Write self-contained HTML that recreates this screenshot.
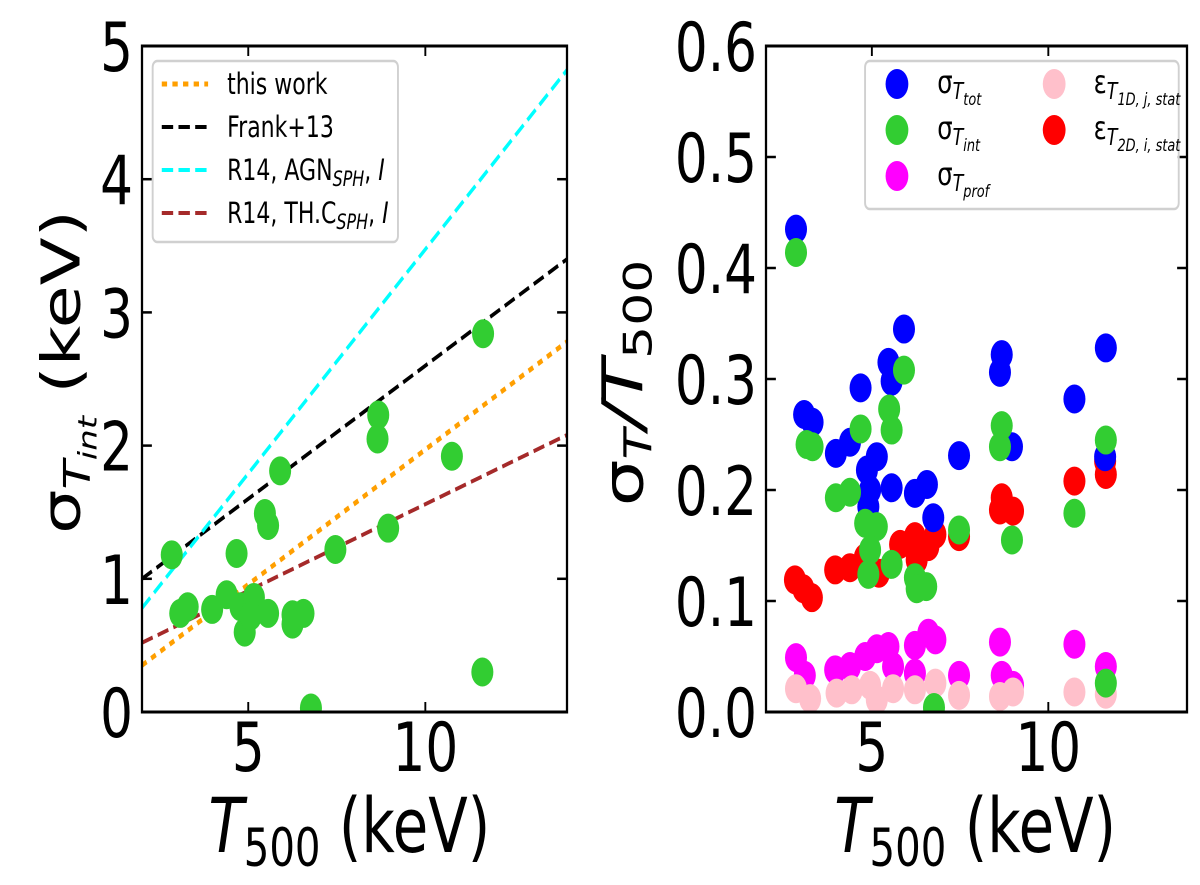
<!DOCTYPE html>
<html><head><meta charset="utf-8">
<style>
html,body{margin:0;padding:0;background:#fff;}
svg{display:block;}
text{font-family:"DejaVu Sans","Liberation Sans",sans-serif;fill:#000;}
</style></head>
<body>
<svg id="fig" width="1200" height="885" viewBox="0 0 1580 885" preserveAspectRatio="none" xmlns="http://www.w3.org/2000/svg">
<rect x="0" y="0" width="1580" height="885" fill="#fff"/>
<g id="left"></g>
<g id="right"></g>

<!-- axis labels -->
<text x="460" y="852" font-size="76" text-anchor="middle"><tspan font-style="italic">T</tspan><tspan font-size="53" dy="14">500</tspan><tspan dy="-14"> (keV)</tspan></text>
<text x="1284" y="852" font-size="76" text-anchor="middle"><tspan font-style="italic">T</tspan><tspan font-size="53" dy="14">500</tspan><tspan dy="-14"> (keV)</tspan></text>
<text transform="translate(105,372) rotate(-90)" font-size="70" text-anchor="middle">σ<tspan font-size="48" font-style="italic" dy="13">T</tspan><tspan font-size="34" font-style="italic" dy="9">int</tspan><tspan dy="-22"> (keV)</tspan></text>
<text transform="translate(846,383) rotate(-90)" font-size="74" text-anchor="middle">σ<tspan font-size="50" font-style="italic" dy="12">T</tspan><tspan dy="-12" font-style="italic">/T</tspan><tspan font-size="52" dy="12">500</tspan></text>

<!-- left legend -->
<g>
<rect x="201" y="61" width="323" height="181" rx="6" fill="#fff" fill-opacity="0.8" stroke="#d0d0d0" stroke-width="2.5"/>
<line x1="213" y1="84" x2="274" y2="84" stroke="#ff9f00" stroke-width="5" stroke-dasharray="7,7"/>
<text x="299" y="94" font-size="29">this work</text>
<line x1="213" y1="127" x2="274" y2="127" stroke="#000" stroke-width="4" stroke-dasharray="15,7"/>
<text x="299" y="137" font-size="29">Frank+13</text>
<line x1="213" y1="170" x2="274" y2="170" stroke="#00ffff" stroke-width="4" stroke-dasharray="15,7"/>
<text x="299" y="180" font-size="29">R14, AGN<tspan font-size="21" font-style="italic" dy="6">SPH</tspan><tspan dy="-6">, </tspan><tspan font-style="italic">I</tspan></text>
<line x1="213" y1="213" x2="274" y2="213" stroke="#a52a2a" stroke-width="4" stroke-dasharray="15,7"/>
<text x="299" y="223" font-size="29">R14, TH.C<tspan font-size="21" font-style="italic" dy="6">SPH</tspan><tspan dy="-6">, </tspan><tspan font-style="italic">I</tspan></text>
</g>

<!-- right legend -->
<g>
<rect x="1139" y="61" width="413" height="148" rx="6" fill="#fff" fill-opacity="0.8" stroke="#d0d0d0" stroke-width="2.5"/>
<circle cx="1181" cy="84" r="15" fill="#0000ff"/>
<text x="1234" y="93" font-size="32">σ<tspan font-size="23" font-style="italic" dy="6">T</tspan><tspan font-size="17" font-style="italic" dy="6">tot</tspan></text>
<circle cx="1181" cy="130" r="15" fill="#32cd32"/>
<text x="1234" y="139" font-size="32">σ<tspan font-size="23" font-style="italic" dy="6">T</tspan><tspan font-size="17" font-style="italic" dy="6">int</tspan></text>
<circle cx="1181" cy="176" r="15" fill="#ff00ff"/>
<text x="1234" y="185" font-size="32">σ<tspan font-size="23" font-style="italic" dy="6">T</tspan><tspan font-size="17" font-style="italic" dy="6">prof</tspan></text>
<circle cx="1388" cy="84" r="15" fill="#ffc0cb"/>
<text x="1440" y="93" font-size="32">ε<tspan font-size="23" font-style="italic" dy="6">T</tspan><tspan font-size="17" font-style="italic" dy="6">1D, j, stat</tspan></text>
<circle cx="1388" cy="130" r="15" fill="#ff0000"/>
<text x="1440" y="139" font-size="32">ε<tspan font-size="23" font-style="italic" dy="6">T</tspan><tspan font-size="17" font-style="italic" dy="6">2D, i, stat</tspan></text>
</g>
</svg>

<script>
// ---------- left panel data ----------
const leftT   = [2.84,4.67,5.90,5.47,5.56,7.46,8.95,8.67,8.65,10.75,11.63,11.61,6.77,3.08,3.29,3.98,4.39,4.78,5.16,4.90,5.07,5.56,6.25,6.56,6.25];
const leftSig = [1.18,1.19,1.81,1.49,1.40,1.22,1.38,2.23,2.05,1.92,2.84,0.30,0.03,0.74,0.79,0.77,0.88,0.79,0.86,0.60,0.72,0.74,0.73,0.74,0.66];
const leftXTicks = [5,10];
const leftYTicks = [0,1,2,3,4,5];
const relNames  = ['this-work','frank13','r14-agn','r14-thc'];
const relAtT2   = [0.35,1.00,0.78,0.52];
const relAtT14  = [2.78,3.40,4.82,2.08];

// ---------- right panel data ----------
const rightXTicks = [5,10];
const rightYTicks = [0.0,0.1,0.2,0.3,0.4,0.5,0.6];
const totT = [2.85,5.91,5.47,5.56,4.68,8.68,8.63,11.63,10.74,3.08,3.32,3.98,4.38,5.14,4.86,4.95,5.56,6.22,6.56,6.74,7.47,8.97,11.61,4.90];
const totV = [0.435,0.345,0.315,0.298,0.292,0.322,0.306,0.328,0.282,0.268,0.261,0.233,0.243,0.230,0.218,0.200,0.202,0.197,0.205,0.175,0.231,0.239,0.230,0.185];
const intT = [2.85,5.91,5.49,5.56,4.68,8.68,8.63,11.63,10.74,8.97,7.47,3.15,3.32,3.98,4.38,4.81,5.14,4.95,4.90,5.56,6.22,6.54,6.27,11.63,6.76];
const intV = [0.414,0.308,0.273,0.254,0.255,0.258,0.239,0.245,0.179,0.155,0.164,0.241,0.239,0.193,0.198,0.170,0.167,0.146,0.124,0.133,0.121,0.113,0.111,0.026,0.004];
const e2dT = [2.82,3.06,3.30,3.96,4.38,4.80,5.20,5.80,6.22,6.60,6.80,6.27,7.47,8.68,8.63,9.00,10.74,11.63,11.61];
const e2dV = [0.119,0.111,0.103,0.128,0.130,0.139,0.125,0.151,0.158,0.149,0.160,0.137,0.158,0.193,0.182,0.181,0.208,0.214,0.226];
const profT = [2.85,3.10,3.96,4.38,4.81,5.14,5.47,5.60,6.22,6.22,6.60,6.80,7.47,8.63,8.68,9.00,10.74,11.63];
const profV = [0.049,0.033,0.038,0.041,0.050,0.057,0.059,0.041,0.035,0.060,0.071,0.065,0.033,0.063,0.033,0.024,0.061,0.041];
const e1dT = [2.85,3.25,4.00,4.43,4.95,5.60,6.22,6.80,7.47,8.63,9.00,10.74,11.63,5.14];
const e1dV = [0.021,0.012,0.017,0.020,0.024,0.021,0.020,0.026,0.015,0.014,0.018,0.018,0.016,0.011];

// ---------- rendering ----------
const NS='http://www.w3.org/2000/svg';
const K=1200/1580;
function V(px){return px/K;}
function mk(tag,parent,attrs){const e=document.createElementNS(NS,tag);for(const a in attrs)e.setAttribute(a,attrs[a]);parent.appendChild(e);return e;}

function makeAxes(g,prefix,x0,x1,xmin,xmax,ymin,ymax,xt,yt,yfmt,ylabRight){
  const yTop=46,yBot=712;
  const sx=v=>V(x0)+(v-xmin)/(xmax-xmin)*(V(x1)-V(x0));
  const sy=v=>yBot-(v-ymin)/(ymax-ymin)*(yBot-yTop);
  const ax={sx,sy,yTop,yBot,X0:V(x0),X1:V(x1)};
  xt.forEach(t=>{
    const X=sx(t);
    const b=mk('line',g,{x1:X,y1:yBot,x2:X,y2:yBot-10,stroke:'#000','stroke-width':2.5});
    
    
    const tp=mk('line',g,{x1:X,y1:yTop,x2:X,y2:yTop+10,stroke:'#000','stroke-width':2.5});
    
    
    const lab=mk('text',g,{x:X,y:771,'font-size':68,'text-anchor':'middle'});
    lab.textContent=String(t);
    
    
  });
  yt.forEach(t=>{
    const Y=sy(t);
    const l=mk('line',g,{x1:ax.X0,y1:Y,x2:ax.X0+13,y2:Y,stroke:'#000','stroke-width':2.5});
    
    
    const r=mk('line',g,{x1:ax.X1,y1:Y,x2:ax.X1-13,y2:Y,stroke:'#000','stroke-width':2.5});
    
    
    const lab=mk('text',g,{x:V(ylabRight),y:Y+25,'font-size':68,'text-anchor':'end'});
    lab.textContent=yfmt(t);
    
    
  });
  return ax;
}
function frame(g,prefix,ax){
  const f=mk('rect',g,{x:ax.X0,y:ax.yTop,width:ax.X1-ax.X0,height:ax.yBot-ax.yTop,fill:'none',stroke:'#000','stroke-width':3});
  
  
}
function scatter(g,ax,xs,ys,color,name){
  for(let i=0;i<xs.length;i++){
    const c=mk('circle',g,{cx:ax.sx(xs[i]),cy:ax.sy(ys[i]),r:14.5,fill:color});
    
    
  }
}

// left
const gl=document.getElementById('left');
const clipL=mk('clipPath',gl,{id:'clipL'});
const axL=makeAxes(gl,'left',142,567,2,14,0,5,leftXTicks,leftYTicks,t=>String(t),133);
mk('rect',clipL,{x:axL.X0,y:axL.yTop,width:axL.X1-axL.X0,height:axL.yBot-axL.yTop});
const gLc=mk('g',gl,{'clip-path':'url(#clipL)'});
const relColors=['#ff9f00','#000000','#00ffff','#a52a2a'];
const relDash=['7,7','15,7','15,7','15,7'];
relNames.forEach((n,i)=>{
  const ln=mk('line',gLc,{x1:axL.sx(2),y1:axL.sy(relAtT2[i]),x2:axL.sx(14),y2:axL.sy(relAtT14[i]),stroke:relColors[i],'stroke-width':i===0?5:4,'stroke-dasharray':relDash[i]});
  
  
});
scatter(gLc,axL,leftT,leftSig,'#32cd32','sigma-int-point');
frame(gl,'left',axL);

// right
const gr=document.getElementById('right');
const clipR=mk('clipPath',gr,{id:'clipR'});
const axR=makeAxes(gr,'right',766,1187,2,13.93,0,0.6,rightXTicks,rightYTicks,t=>t.toFixed(1),757);
mk('rect',clipR,{x:axR.X0,y:axR.yTop,width:axR.X1-axR.X0,height:axR.yBot-axR.yTop});
const gRc=mk('g',gr,{'clip-path':'url(#clipR)'});
scatter(gRc,axR,e2dT,e2dV,'#ff0000','eps-2d-point');
scatter(gRc,axR,profT,profV,'#ff00ff','sigma-prof-point');
scatter(gRc,axR,e1dT,e1dV,'#ffc0cb','eps-1d-point');
scatter(gRc,axR,totT,totV,'#0000ff','sigma-tot-point');
scatter(gRc,axR,intT,intV,'#32cd32','sigma-int-ratio-point');
frame(gr,'right',axR);
</script>
</body></html>
